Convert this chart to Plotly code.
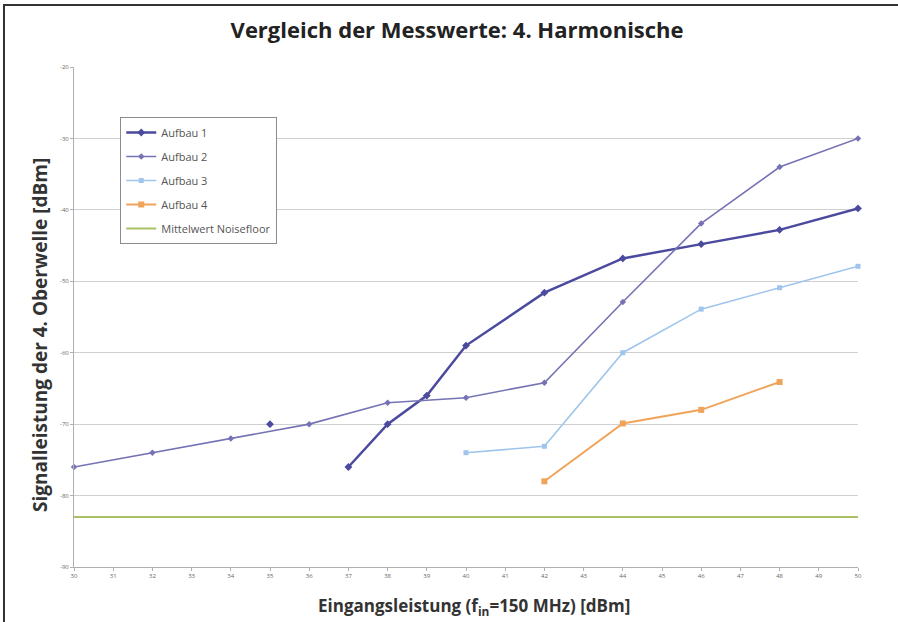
import plotly.graph_objects as go

x_ticks = list(range(30, 51))
y_ticks = [-20, -30, -40, -50, -60, -70, -80, -90]

x_a1 = [35, 36, 37, 38, 39, 40, 42, 44, 46, 48, 50]
y_a1 = [-70, None, -76, -70, -66, -59, -51.6, -46.8, -44.8, -42.8, -39.8]

x_a2 = [30, 32, 34, 36, 38, 40, 42, 44, 46, 48, 50]
y_a2 = [-76, -74, -72, -70, -67, -66.3, -64.2, -52.9, -41.9, -34, -30]

x_a3 = [40, 42, 44, 46, 48, 50]
y_a3 = [-74, -73.1, -60, -53.9, -50.9, -47.9]

x_a4 = [42, 44, 46, 48]
y_a4 = [-78, -69.9, -68, -64.1]

x_noise = [30, 50]
y_noise = [-83, -83]

fig = go.Figure()
fig.add_trace(go.Scatter(x=x_a1, y=y_a1, name="Aufbau 1", mode="lines+markers",
                         connectgaps=False, legendgroup="a1",
                         line=dict(color="#4b4a9e", width=2.5),
                         marker=dict(symbol="diamond", size=6, color="#4b4a9e"), cliponaxis=False))
fig.add_trace(go.Scatter(x=x_a2, y=y_a2, name="Aufbau 2", mode="lines+markers", legendgroup="a2",
                         line=dict(color="#7673b5", width=1.6),
                         marker=dict(symbol="diamond", size=5, color="#7673b5"), cliponaxis=False))
fig.add_trace(go.Scatter(x=x_a3, y=y_a3, name="Aufbau 3", mode="lines+markers", legendgroup="a3",
                         line=dict(color="#9fc5ec", width=1.6),
                         marker=dict(symbol="square", size=5, color="#9fc5ec"), cliponaxis=False))
fig.add_trace(go.Scatter(x=x_a4, y=y_a4, name="Aufbau 4", mode="lines+markers", legendgroup="a4",
                         line=dict(color="#f0a45a", width=2),
                         marker=dict(symbol="square", size=6, color="#f0a45a"), cliponaxis=False))
fig.add_trace(go.Scatter(x=x_noise, y=y_noise, name="Mittelwert Noisefloor", mode="lines", legendgroup="n",
                         line=dict(color="#a9c266", width=2)))

fig.update_layout(
    width=898, height=622,
    margin=dict(l=74, r=40, t=67, b=55),
    paper_bgcolor="white", plot_bgcolor="white",
    font=dict(family="Open Sans, Lato, sans-serif", color="#333333"),
    title=dict(text="<b>Vergleich der Messwerte: 4. Harmonische</b>", x=0.509, xanchor="center",
               y=0.952, yanchor="middle", font=dict(size=22, color="#222222")),
    legend=dict(x=0.059, y=0.9, xanchor="left", yanchor="top", bordercolor="#8c8c8c", borderwidth=1,
                bgcolor="white", font=dict(size=11, color="#555555"), tracegroupgap=5,
                itemwidth=30),
    showlegend=True,
)
fig.update_xaxes(range=[30, 50], tickvals=x_ticks, ticktext=[str(v) for v in x_ticks],
                 showgrid=False, showline=True, linecolor="#b0b0b0", linewidth=1,
                 ticks="outside", ticklen=3, tickcolor="#b0b0b0", tickfont=dict(size=6, color="#666666"),
                 zeroline=False)
fig.update_yaxes(range=[-90, -20], tickvals=y_ticks, ticktext=[str(v) for v in y_ticks],
                 showgrid=True, gridcolor="#d0d0d0", gridwidth=1,
                 showline=True, linecolor="#b0b0b0", linewidth=1,
                 ticks="outside", ticklen=3, tickcolor="#b0b0b0", tickfont=dict(size=6, color="#666666"),
                 zeroline=False)
fig.add_annotation(text="<b>Eingangsleistung (f<sub>in</sub>=150 MHz) [dBm]</b>", xref="paper", yref="paper",
                   x=0.51, y=-0.078, xanchor="center", yanchor="middle", showarrow=False,
                   font=dict(size=17, color="#333333"))
fig.add_annotation(text="<b>Signalleistung der 4. Oberwelle [dBm]</b>", xref="paper", yref="paper",
                   x=-0.0434, y=0.464, xanchor="center", yanchor="middle", textangle=-90, showarrow=False,
                   font=dict(size=19, color="#333333"))
fig.add_shape(type="rect", xref="paper", yref="paper", x0=-0.0893, x1=1.1, y0=-0.2, y1=1.124,
              line=dict(color="#333333", width=2), fillcolor="rgba(0,0,0,0)", layer="above")

fig.write_html("out.html", config={"displayModeBar": False},
               post_script="document.body.style.margin='0px';")
